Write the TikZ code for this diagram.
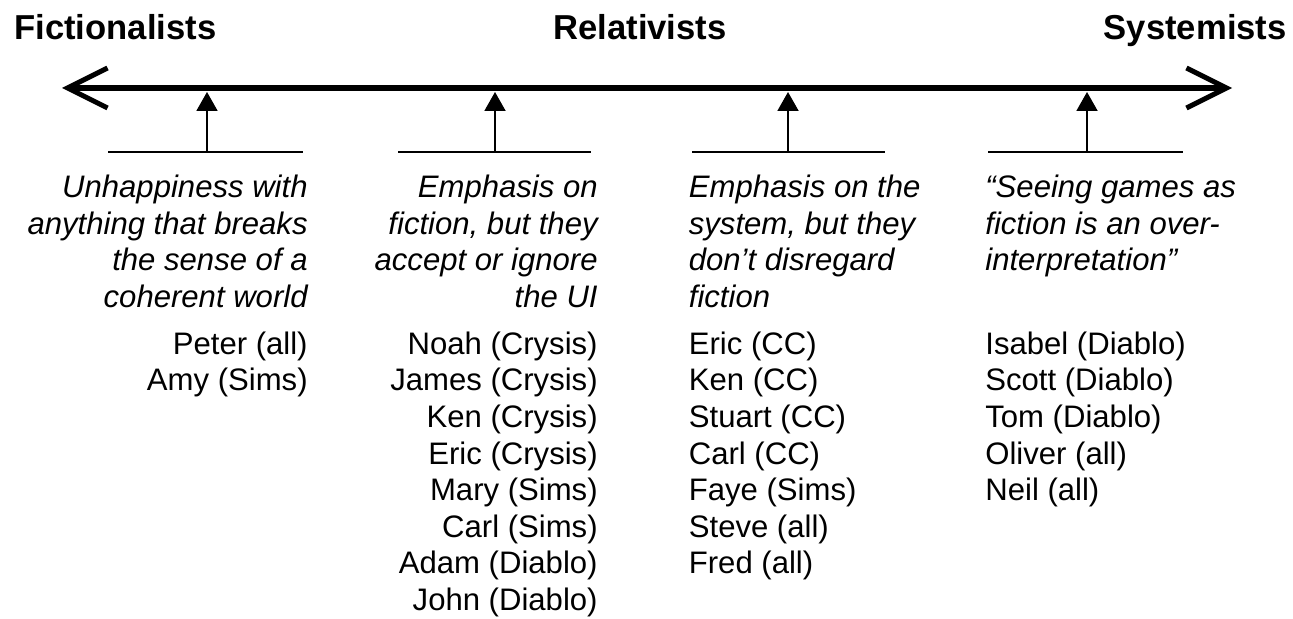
\documentclass[tikz,border=0pt]{standalone}
\usepackage{fontspec}
\setmainfont{Liberation Sans}
\usetikzlibrary{positioning,arrows.meta}

\tikzset{
  camp/.style={inner sep=0pt, font=\fontsize{19.7}{23}\selectfont\bfseries},
  view/.style={inner sep=0pt, font=\fontsize{17.7}{20.9}\selectfont\itshape},
  names/.style={inner sep=0pt, font=\fontsize{17.7}{20.8}\selectfont},
  scale line/.style={line width=2.85pt,
    {Straight Barb[length=0.8cm,width=0.8cm]}-{Straight Barb[length=0.8cm,width=0.8cm]}},
  shelf/.style={line width=1.1pt},
  pointer/.style={line width=1.1pt, -{Triangle[length=0.38cm,width=0.42cm]}}
}

\begin{document}
\begin{tikzpicture}[x=0.02cm, y=-0.02cm]
		\useasboundingbox (0,0) rectangle (1293,618);
		
		\node[camp, anchor=base west] (fict) at (14,40) {Fictionalists};
		\node[camp, anchor=base] (rel) at (640,40) {Relativists};
		\node[camp, anchor=base east] (sys) at (1287,40) {Systemists};
		
		% the scale
		\coordinate (west) at (62,88);
		\coordinate (east) at (1232,88);
		\draw[scale line] (west) -- (east);
		
		% fictionalists
		\coordinate (l1) at (108,152);
		\coordinate (r1) at (303,152);
		\coordinate (s1) at (207,152);
		\coordinate (p1) at (207,92);
		\draw[shelf] (l1) -- (r1);
		\draw[pointer] (s1) -- (p1);
		\node[view, align=right, below left=0.386cm and -0.1cm of r1] (v1)
			{\strut Unhappiness with\\anything that breaks\\the sense of a\\coherent world};
		\node[names, align=right, below left=3.53cm and -0.1cm of r1] (n1)
			{\strut Peter (all)\\Amy (Sims)};
		
		% relativists, fiction side
		\coordinate (l2) at (398,152);
		\coordinate (r2) at (591,152);
		\coordinate (s2) at (495,152);
		\coordinate (p2) at (495,92);
		\draw[shelf] (l2) -- (r2);
		\draw[pointer] (s2) -- (p2);
		\node[view, align=right, below left=0.386cm and -0.14cm of r2] (v2)
			{\strut Emphasis on\\fiction, but they\\accept or ignore\\the UI};
		\node[names, align=right, below left=3.53cm and -0.14cm of r2] (n2)
			{\strut Noah (Crysis)\\James (Crysis)\\Ken (Crysis)\\Eric (Crysis)\\Mary (Sims)\\Carl (Sims)\\Adam (Diablo)\\John (Diablo)};
		
		% relativists, system side
		\coordinate (l3) at (692,152);
		\coordinate (r3) at (885,152);
		\coordinate (s3) at (788,152);
		\coordinate (p3) at (788,92);
		\draw[shelf] (l3) -- (r3);
		\draw[pointer] (s3) -- (p3);
		\node[view, align=left, below right=0.386cm and -0.07cm of l3] (v3)
			{\strut Emphasis on the\\system, but they\\don't disregard\\fiction};
		\node[names, align=left, below right=3.53cm and -0.07cm of l3] (n3)
			{\strut Eric (CC)\\Ken (CC)\\Stuart (CC)\\Carl (CC)\\Faye (Sims)\\Steve (all)\\Fred (all)};
		
		% systemists
		\coordinate (l4) at (988,152);
		\coordinate (r4) at (1183,152);
		\coordinate (s4) at (1087,152);
		\coordinate (p4) at (1087,92);
		\draw[shelf] (l4) -- (r4);
		\draw[pointer] (s4) -- (p4);
		\node[view, align=left, below right=0.386cm and -0.06cm of l4] (v4)
			{\strut “Seeing games as\\fiction is an over-\\interpretation”};
		\node[names, align=left, below right=3.53cm and -0.06cm of l4] (n4)
			{\strut Isabel (Diablo)\\Scott (Diablo)\\Tom (Diablo)\\Oliver (all)\\Neil (all)};
\end{tikzpicture}
\end{document}
